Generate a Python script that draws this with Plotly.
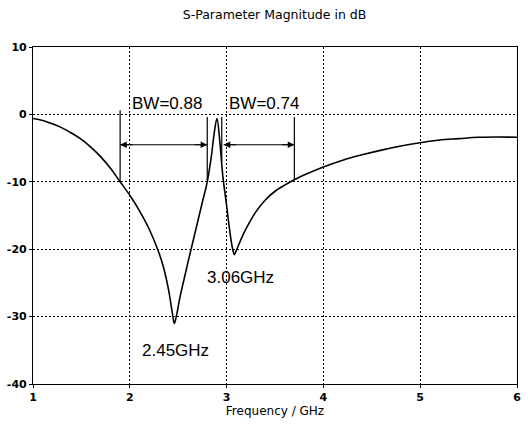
import plotly.graph_objects as go

freq_ghz = [1.0, 1.1, 1.2, 1.3, 1.4, 1.5, 1.6, 1.7, 1.8, 1.9, 2.0, 2.1, 2.2, 2.3, 2.35,
            2.4, 2.44, 2.46, 2.48, 2.52, 2.56, 2.6, 2.65, 2.7, 2.75, 2.8, 2.84, 2.87,
            2.9, 2.93, 2.96, 3.0, 3.03, 3.06, 3.08, 3.1, 3.15, 3.2, 3.3, 3.4, 3.5, 3.6,
            3.7, 3.8, 4.0, 4.2, 4.4, 4.6, 4.8, 5.0, 5.2, 5.4, 5.6, 5.8, 6.0]
s_db = [-0.6, -0.9, -1.4, -2.0, -2.8, -3.7, -4.9, -6.3, -8.0, -10.0, -12.0, -14.3, -17.0,
        -20.5, -22.8, -26.0, -29.5, -31.0, -30.0, -27.0, -24.5, -22.0, -19.0, -16.0, -13.0,
        -10.0, -6.5, -3.0, -0.6, -4.0, -9.0, -13.5, -17.0, -19.8, -20.8, -20.2, -18.5,
        -17.0, -14.5, -12.7, -11.4, -10.5, -9.7, -9.0, -7.8, -6.8, -6.0, -5.3, -4.7, -4.2,
        -3.8, -3.6, -3.4, -3.35, -3.4]

x_ticks = [1, 2, 3, 4, 5, 6]
y_ticks = [10, 0, -10, -20, -30, -40]

# bandwidth markers: (x, y_bottom, y_top)
bw_lines = [(1.9, -10.0, 0.6), (2.8, -10.0, -0.4), (2.95, -7.0, -0.4), (3.7, -9.7, -0.4)]
bw_arrows = [(1.9, 2.8, -4.5), (2.97, 3.7, -4.5)]
bw_texts = [("BW=0.88", 2.38, 1.6), ("BW=0.74", 3.39, 1.6)]
freq_labels = [("2.45GHz", 2.47, -35.0), ("3.06GHz", 3.14, -24.2)]

fig = go.Figure()
fig.add_trace(go.Scatter(x=freq_ghz, y=s_db, mode="lines", line=dict(color="black", width=1.6),
                         line_shape="spline", hoverinfo="skip", showlegend=False))

shapes = []
for xv, y0, y1 in bw_lines:
    shapes.append(dict(type="line", xref="x", yref="y", x0=xv, x1=xv, y0=y0, y1=y1,
                       line=dict(color="black", width=1.2)))

annotations = []
for x0, x1, yv in bw_arrows:
    shapes.append(dict(type="line", xref="x", yref="y", x0=x0, x1=x1, y0=yv, y1=yv,
                       line=dict(color="black", width=1.2)))
    for end, off in ((x0, 14), (x1, -14)):
        annotations.append(dict(x=end, y=yv, ax=off, ay=0, xref="x", yref="y",
                                showarrow=True, arrowhead=2, arrowsize=1.1, arrowwidth=1.2,
                                arrowcolor="black", text=""))
for txt, xv, yv in bw_texts + freq_labels:
    annotations.append(dict(x=xv, y=yv, xref="x", yref="y", text=txt, showarrow=False,
                            font=dict(family="Liberation Sans", size=17, color="black")))

axis_common = dict(showline=True, linecolor="black", linewidth=1.2, mirror=True,
                   showgrid=True, gridcolor="black", griddash="2px,2px", gridwidth=1,
                   ticks="outside", ticklen=3, tickcolor="black", zeroline=False,
                   tickfont=dict(family="DejaVu Sans", size=11, color="black", weight="bold"))

fig.update_layout(
    width=528, height=426,
    margin=dict(l=33, r=7, t=47, b=42),
    paper_bgcolor="white", plot_bgcolor="white",
    title=dict(text="S-Parameter Magnitude in dB", x=0.52, xanchor="center",
               y=1 - 15 / 426, yanchor="middle", yref="container",
               font=dict(family="DejaVu Sans", size=12.5, color="black")),
    xaxis=dict(range=[1, 6], tickvals=x_ticks, ticktext=[str(v) for v in x_ticks],
               title=dict(text="Frequency / GHz", standoff=0,
                          font=dict(family="DejaVu Sans", size=12, color="black")),
               **axis_common),
    yaxis=dict(range=[-40, 10], tickvals=y_ticks, ticktext=[str(v) for v in y_ticks],
               **axis_common),
    shapes=shapes, annotations=annotations,
)

fig.write_html("out.html")
